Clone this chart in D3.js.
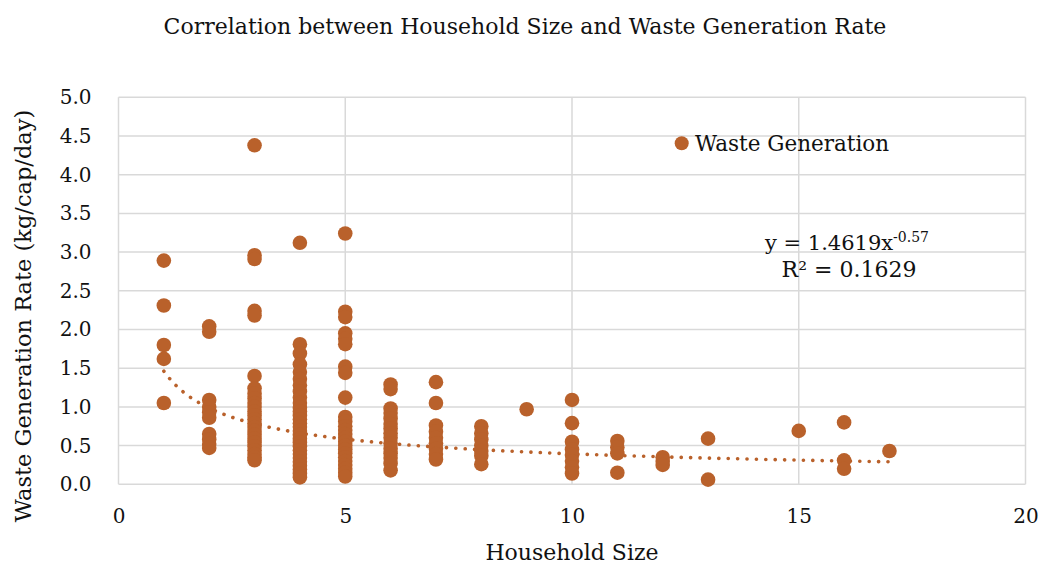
<!DOCTYPE html>
<html>
<head>
<meta charset="utf-8">
<script src="https://cdn.jsdelivr.net/npm/d3@7"></script>
<style>
  body { margin: 0; background: #fff; }
  text { font-family: "DejaVu Serif", "Liberation Serif", serif; fill: #111; }
</style>
</head>
<body>
<div id="chart-area"></div>
<script>
// household sizes and the rates
var sizes = [1, 2, 3, 4, 5, 6, 7, 8, 9, 10, 11, 12, 13, 15, 16, 17];
var rates = [
  [2.89, 2.31, 1.80, 1.62, 1.05],
  [2.04, 1.97, 1.09, 1.00, 0.93, 0.86, 0.65, 0.58, 0.52, 0.47],
  [4.38, 2.96, 2.91, 2.24, 2.18, 1.40, 1.24, 1.17, 1.11, 1.05, 1.00, 0.94, 0.89, 0.84, 0.79, 0.74, 0.69, 0.64, 0.59, 0.54, 0.49, 0.44, 0.39, 0.35, 0.31],
  [3.12, 1.81, 1.69, 1.55, 1.45, 1.36, 1.28, 1.20, 1.12, 1.05, 0.99, 0.94, 0.89, 0.84, 0.79, 0.74, 0.69, 0.64, 0.59, 0.54, 0.49, 0.44, 0.39, 0.34, 0.29, 0.24, 0.19, 0.14, 0.09],
  [3.24, 2.23, 2.16, 1.95, 1.88, 1.81, 1.52, 1.44, 1.12, 0.87, 0.81, 0.75, 0.70, 0.65, 0.60, 0.55, 0.50, 0.45, 0.40, 0.35, 0.30, 0.25, 0.20, 0.15, 0.10],
  [1.29, 1.23, 0.98, 0.92, 0.85, 0.78, 0.72, 0.66, 0.60, 0.53, 0.46, 0.40, 0.34, 0.27, 0.18],
  [1.32, 1.05, 0.76, 0.68, 0.60, 0.53, 0.46, 0.39, 0.32],
  [0.75, 0.66, 0.58, 0.50, 0.43, 0.37, 0.26],
  [0.97],
  [1.09, 0.79, 0.55, 0.45, 0.38, 0.30, 0.22, 0.14],
  [0.56, 0.48, 0.40, 0.15],
  [0.35, 0.30, 0.25],
  [0.59, 0.06],
  [0.69],
  [0.80, 0.31, 0.20],
  [0.43]
];
var xTicks = [0, 5, 10, 15, 20];
var yTicks = [0, 0.5, 1, 1.5, 2, 2.5, 3, 3.5, 4, 4.5, 5];
var trendA = 1.4619, trendB = -0.57;

var data = [];
sizes.forEach(function(s, i) {
  rates[i].forEach(function(r) { data.push({size: s, rate: r}); });
});

var margin = {left: 118.5, right: 18.5, top: 97.3, bottom: 80.7};
var width = 1044 - margin.left - margin.right;
var height = 565 - margin.top - margin.bottom;
var orange = "#B9612B";
var gridCol = "#D9D9D9";

var svg = d3.select("#chart-area")
  .append("svg")
  .attr("width", 1044)
  .attr("height", 565);

var g = svg.append("g")
  .attr("transform", "translate(" + margin.left + ", " + margin.top + ")");

var x = d3.scaleLinear().domain([0, 20]).range([0, width]);
var y = d3.scaleLinear().domain([0, 5]).range([height, 0]);

// grid lines
g.selectAll(".hgrid").data(yTicks).enter().append("line")
  .attr("class", "hgrid")
  .attr("x1", 0).attr("x2", width)
  .attr("y1", d => y(d)).attr("y2", d => y(d))
  .attr("stroke", gridCol).attr("stroke-width", 1.5);

g.selectAll(".vgrid").data(xTicks).enter().append("line")
  .attr("class", "vgrid")
  .attr("y1", 0).attr("y2", height)
  .attr("x1", d => x(d)).attr("x2", d => x(d))
  .attr("stroke", gridCol).attr("stroke-width", 1.5);

// axes (labels only)
var yAxisCall = d3.axisLeft(y).tickValues(yTicks).tickSize(0).tickPadding(27)
  .tickFormat(d3.format(".1f"));
var yAx = g.append("g").attr("class", "y axis").call(yAxisCall);
yAx.select(".domain").remove();
yAx.selectAll("text").attr("font-size", "20px").attr("font-family", "DejaVu Serif").attr("fill", "#111");

var xAxisCall = d3.axisBottom(x).tickValues(xTicks).tickSize(0).tickPadding(25)
  .tickFormat(d3.format("d"));
var xAx = g.append("g").attr("class", "x axis")
  .attr("transform", "translate(0, " + height + ")")
  .call(xAxisCall);
xAx.select(".domain").remove();
xAx.selectAll("text").attr("font-size", "20px").attr("font-family", "DejaVu Serif").attr("fill", "#111");

// trend line
var trendX = d3.range(1, 17.001, 0.05);
var line = d3.line()
  .x(d => x(d))
  .y(d => y(trendA * Math.pow(d, trendB)));
g.append("path")
  .datum(trendX)
  .attr("d", line)
  .attr("fill", "none")
  .attr("stroke", orange)
  .attr("stroke-width", 3.6)
  .attr("stroke-linecap", "round")
  .attr("stroke-dasharray", "0.1 9.3");

// points
g.selectAll(".pt").data(data).enter().append("circle")
  .attr("class", "pt")
  .attr("cx", d => x(d.size))
  .attr("cy", d => y(d.rate))
  .attr("r", 7.3)
  .attr("fill", orange);

// legend
svg.append("circle")
  .attr("cx", 681.7).attr("cy", 143.3).attr("r", 7)
  .attr("fill", orange);
svg.append("text")
  .attr("x", 695).attr("y", 151)
  .attr("font-size", "21.5px")
  .text("Waste Generation");

// equation
var eq = svg.append("text")
  .attr("x", 847).attr("y", 250)
  .attr("text-anchor", "middle")
  .attr("font-size", "21px");
eq.append("tspan").text("y = 1.4619x");
eq.append("tspan").attr("dy", -8).attr("font-size", "14px").text("-0.57");

svg.append("text")
  .attr("x", 849).attr("y", 277)
  .attr("text-anchor", "middle")
  .attr("font-size", "22px")
  .text("R² = 0.1629");

// title and axis titles
svg.append("text")
  .attr("x", 525).attr("y", 34)
  .attr("text-anchor", "middle")
  .attr("font-size", "22px")
  .text("Correlation between Household Size and Waste Generation Rate");

svg.append("text")
  .attr("x", 572).attr("y", 560)
  .attr("text-anchor", "middle")
  .attr("font-size", "22px")
  .text("Household Size");

svg.append("text")
  .attr("transform", "translate(31, 316) rotate(-90)")
  .attr("text-anchor", "middle")
  .attr("font-size", "22.5px")
  .text("Waste Generation Rate (kg/cap/day)");
</script>
</body>
</html>
